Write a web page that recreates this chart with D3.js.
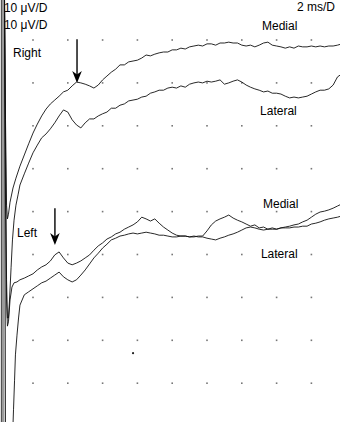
<!DOCTYPE html>
<html>
<head>
<meta charset="utf-8">
<script src="https://cdn.jsdelivr.net/npm/d3@7"></script>
<style>
  body { margin: 0; background: #fff; }
  svg { display: block; font-family: "Liberation Sans", Arial, sans-serif; }
</style>
</head>
<body>
<svg id="chart" width="340" height="422"></svg>
<script>
// sample times (ms) shared by the four sweeps after the stimulus artifact
const timeMs = [
  1.25, 1.5, 1.75, 2, 2.25, 2.5, 2.75, 3, 3.25, 3.5, 3.75, 4, 4.25, 4.5, 4.75,
  5, 5.25, 5.5, 5.75, 6, 6.25, 6.5, 6.75, 7, 7.25, 7.5, 7.75, 8, 8.25, 8.5, 8.75,
  9, 9.25, 9.5, 9.75, 10, 10.25, 10.5, 10.75, 11, 11.25, 11.5, 11.75, 12, 12.25,
  12.5, 12.75, 13, 13.25, 13.5, 13.75, 14, 14.25, 14.5, 14.75, 15, 15.25, 15.5,
  15.75, 16, 16.25, 16.5, 16.75, 17, 17.25, 17.5, 17.75, 18, 18.25, 18.5, 18.75,
  19, 19.25, 19.5, 19.75
];

// amplitudes (uV), same offset reference for every sweep
const rightMedial = [
  -29.4, -26.8, -24.2, -21.7, -19.6, -17.7, -16.1, -14.9, -14.0, -13.1, -12.1, -11.7, -10.7, -9.8, -10.0,
  -10.3, -10.7, -11.2, -10.5, -9.3, -8.4, -7.5, -6.8, -5.8, -5.8, -5.1, -4.9, -4.7, -4.2, -3.5, -3.7,
  -3.3, -3.0, -2.8, -2.8, -2.3, -2.3, -1.9, -2.1, -1.6, -1.4, -1.2, -1.4, -0.9, -0.9,
  -1.2, -0.7, -0.7, -0.5, -0.7, -0.7, -1.2, -1.4, -1.2, -1.6, -1.2, -0.7, -0.5,
  -1.2, -1.4, -1.6, -1.9, -1.6, -1.9, -1.4, -1.6, -1.6, -1.4, -1.6, -1.4, -1.6,
  -1.4, -1.4, -1.2, -0.9
];
const rightLateral = [
  -33.8, -31.2, -28.7, -26.3, -24.5, -22.8, -21.9, -20.7, -19.3, -17.7, -16.3, -16.8, -18.6, -19.8, -20.5,
  -19.3, -18.4, -18.4, -17.7, -17.2, -16.8, -15.9, -15.9, -15.2, -14.9, -14.2, -14.0, -13.8, -13.3, -13.1, -12.4,
  -12.1, -11.7, -11.7, -11.2, -11.0, -11.2, -10.7, -11.0, -10.3, -10.0, -9.8, -10.0, -9.6, -9.8,
  -9.6, -9.3, -10.3, -10.0, -9.6, -9.3, -9.8, -10.5, -11.0, -11.4, -11.7, -12.1, -11.9,
  -12.4, -12.4, -12.6, -13.1, -13.5, -13.3, -13.5, -13.3, -13.1, -12.6, -12.1, -11.7, -11.7,
  -11.4, -10.5, -8.6, -7.9
];
const leftMedial = [
  -55.9, -55.5, -55.0, -54.5, -53.6, -52.9, -52.4, -51.5, -50.1, -49.4, -50.8, -52.0, -52.4, -52.0, -51.5,
  -50.8, -50.1, -49.0, -48.0, -47.3, -46.4, -45.9, -45.2, -44.8, -44.1, -43.6, -43.1, -42.4, -41.3, -41.7, -42.2,
  -41.7, -42.7, -43.6, -44.3, -45.0, -45.5, -45.7, -45.7, -45.9, -45.9, -45.7, -45.7, -44.5, -43.1,
  -42.2, -41.7, -41.3, -40.8, -41.5, -42.0, -42.4, -42.9, -43.4, -43.1, -43.8, -43.6, -44.1,
  -44.1, -44.1, -43.8, -43.6, -43.4, -43.1, -42.9, -42.4, -42.0, -41.3, -40.6, -40.1, -39.9,
  -39.6, -39.2, -38.7, -38.2
];
const leftLateral = [
  -61.8, -59.4, -58.7, -58.0, -57.3, -56.6, -56.2, -55.5, -54.8, -54.1, -55.2, -55.9, -56.4, -55.9, -54.8,
  -53.6, -52.2, -50.8, -49.7, -48.5, -47.6, -46.6, -46.2, -45.7, -45.5, -45.2, -45.0, -45.2, -45.0, -44.8, -45.0,
  -45.2, -45.5, -45.5, -45.7, -45.9, -45.9, -45.7, -45.7, -45.9, -45.7, -45.9, -45.9, -46.2, -46.4,
  -46.6, -46.2, -45.9, -45.5, -45.2, -44.8, -44.3, -43.8, -43.6, -43.8, -44.1, -44.3, -44.1,
  -43.8, -44.1, -43.8, -43.8, -43.8, -43.6, -43.6, -43.4, -43.4, -42.9, -42.7, -42.4, -42.0,
  -41.7, -41.5, -41.3, -41.0
];

// stimulus artifact / onset, [ms, uV]
const rightMedialOnset = [[0.36, 11.7], [0.42, -18.6], [0.48, -38.5], [0.53, -41.7], [0.59, -40.6], [0.68, -37.8], [0.85, -34.5], [1.02, -32.2]];
const rightLateralOnset = [[0.36, 11.7], [0.42, -25.6], [0.48, -55.9], [0.53, -64.8], [0.59, -64.8], [0.65, -60.6], [0.74, -53.1], [0.82, -46.6], [0.91, -42.0], [1.02, -38.5], [1.14, -36.1]];
const leftMedialOnset = [[0.36, 11.7], [0.42, -37.3], [0.48, -60.6], [0.53, -66.7], [0.59, -65.7], [0.68, -60.6], [0.79, -57.6], [0.91, -56.6], [1.08, -56.4]];
const leftLateralOnset = [[0.36, 11.7], [0.42, -93.2], [0.82, -93.2], [0.88, -86.2], [0.94, -79.3], [0.99, -73.4], [1.08, -68.8], [1.17, -64.8]];

const gridTimes = [2, 4, 6, 8, 10, 12, 14, 16, 18];
const gridAmps = [0, -10, -20, -30, -40, -50, -60, -70, -80];

// arrows: [ms, tail uV, tip uV]
const arrows = [[4.53, 0.2, -10.0], [3.26, -39.2, -47.8]];

// stray speck on the print, [ms, uV]
const speck = [7.75, -73.0];

const labels = [
  { text: "10 \u03bcV/D", t: 0.33, v: 6.5 },
  { text: "10 \u03bcV/D", t: 0.33, v: 2.5 },
  { text: "Right", t: 0.85, v: -4.0 },
  { text: "2 ms/D", t: 17.17, v: 6.8 },
  { text: "Medial", t: 15.16, v: 2.3 },
  { text: "Lateral", t: 15.05, v: -17.5 },
  { text: "Left", t: 1.08, v: -45.9 },
  { text: "Medial", t: 15.22, v: -39.2 },
  { text: "Lateral", t: 15.1, v: -50.8 },
];

const width = 340;
const height = 422;

const x = d3.scaleLinear().domain([0, 20]).range([-1.8, 346.2]);
const y = d3.scaleLinear().domain([0, -90]).range([40, 426.1]);

const svg = d3.select("#chart");

// grid dots
gridAmps.forEach((a) => {
  svg.append("g")
    .selectAll("rect")
    .data(gridTimes)
    .join("rect")
    .attr("x", (d) => x(d) - 0.8)
    .attr("y", y(a) - 0.8)
    .attr("width", 1.6)
    .attr("height", 1.6)
    .attr("fill", "#777");
});

svg.append("circle")
  .attr("cx", x(speck[0]))
  .attr("cy", y(speck[1]))
  .attr("r", 1.1)
  .attr("fill", "#222");

// stimulus artifact band at the left edge
svg.append("rect")
  .attr("x", x(0.16))
  .attr("y", 0)
  .attr("width", x(0.36) - x(0.16))
  .attr("height", height)
  .attr("fill", "#9a9a9a");
svg.append("line")
  .attr("x1", x(0.18)).attr("x2", x(0.18))
  .attr("y1", 0).attr("y2", height)
  .attr("stroke", "#444")
  .attr("stroke-width", 1);

const line = d3.line()
  .x((d) => x(d[0]))
  .y((d) => y(d[1]));

const sweeps = [
  [rightMedialOnset, rightMedial],
  [rightLateralOnset, rightLateral],
  [leftMedialOnset, leftMedial],
  [leftLateralOnset, leftLateral],
];

sweeps.forEach(([onset, values]) => {
  const pts = onset.concat(timeMs.map((t, i) => [t, values[i]]));
  svg.append("path")
    .datum(pts)
    .attr("fill", "none")
    .attr("stroke", "#111")
    .attr("stroke-width", 0.9)
    .attr("stroke-linejoin", "round")
    .attr("d", line);
});

// arrows
arrows.forEach(([t, v0, v1]) => {
  const ax = x(t);
  svg.append("line")
    .attr("x1", ax).attr("x2", ax)
    .attr("y1", y(v0)).attr("y2", y(v1) - 8)
    .attr("stroke", "#000")
    .attr("stroke-width", 1.4);
  svg.append("path")
    .attr("d", `M${ax - 4.8},${y(v1) - 12} L${ax},${y(v1) - 8.5} L${ax + 4.8},${y(v1) - 12} L${ax},${y(v1)} Z`)
    .attr("fill", "#000");
});

svg.append("g")
  .selectAll("text")
  .data(labels)
  .join("text")
  .attr("x", (d) => x(d.t))
  .attr("y", (d) => y(d.v))
  .attr("font-size", 12)
  .attr("fill", "#000")
  .text((d) => d.text);
</script>
</body>
</html>
